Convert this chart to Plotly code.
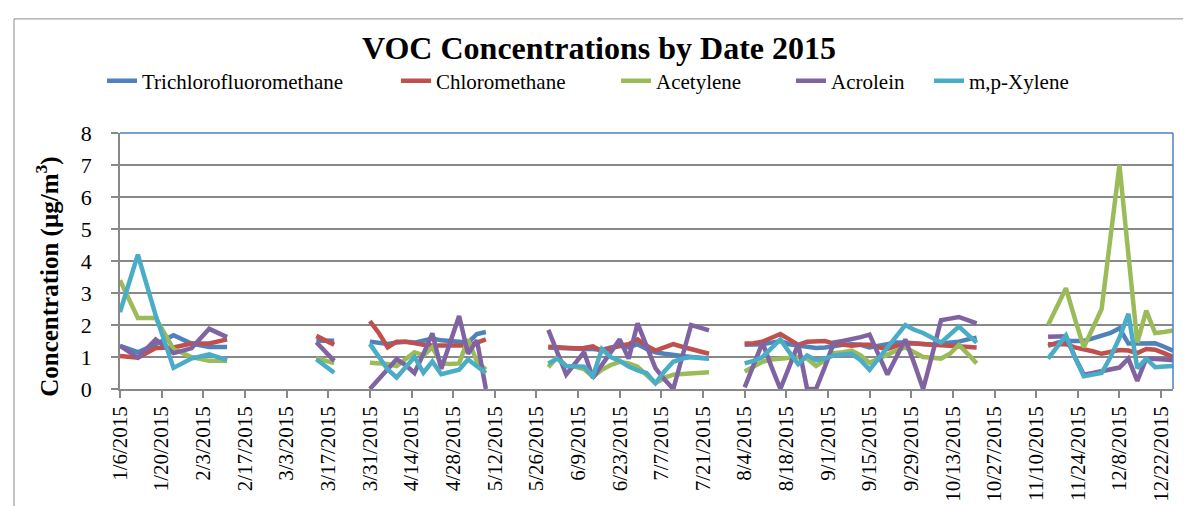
import plotly.graph_objects as go

# Sampling dates (None values separate the measurement clusters)
dates = [
    "2015-01-06", "2015-01-12", "2015-01-18", "2015-01-24", "2015-01-30", "2015-02-05", "2015-02-11",
    "2015-02-17",
    "2015-03-13", "2015-03-19",
    "2015-03-25",
    "2015-03-31", "2015-04-03", "2015-04-06", "2015-04-09", "2015-04-12", "2015-04-15", "2015-04-18",
    "2015-04-21", "2015-04-24", "2015-04-27", "2015-04-30", "2015-05-03", "2015-05-06", "2015-05-09",
    "2015-05-18",
    "2015-05-30", "2015-06-02", "2015-06-05", "2015-06-08", "2015-06-11", "2015-06-14", "2015-06-17",
    "2015-06-20", "2015-06-23", "2015-06-26", "2015-06-29", "2015-07-02", "2015-07-05", "2015-07-08",
    "2015-07-11", "2015-07-14", "2015-07-17", "2015-07-20", "2015-07-23",
    "2015-07-29",
    "2015-08-04", "2015-08-07", "2015-08-10", "2015-08-13", "2015-08-16", "2015-08-19", "2015-08-22",
    "2015-08-25", "2015-08-28", "2015-08-31", "2015-09-03", "2015-09-06", "2015-09-09", "2015-09-12",
    "2015-09-15", "2015-09-18", "2015-09-21", "2015-09-24", "2015-09-27", "2015-09-30", "2015-10-03",
    "2015-10-06", "2015-10-09", "2015-10-12", "2015-10-15", "2015-10-18", "2015-10-21",
    "2015-10-30",
    "2015-11-14", "2015-11-17", "2015-11-20", "2015-11-23", "2015-11-26", "2015-11-29", "2015-12-02",
    "2015-12-05", "2015-12-08", "2015-12-11", "2015-12-14", "2015-12-17", "2015-12-20", "2015-12-23",
    "2015-12-26",
]

trichlorofluoromethane = [
    1.35, 1.15, 1.40, 1.68, 1.42, 1.31, 1.31,
    None,
    1.51, 1.51,
    None,
    1.48, 1.45, 1.41, 1.45, 1.48, 1.45, 1.52, 1.58, 1.52, 1.50, 1.45, 1.45, 1.72, 1.78,
    None,
    1.30, 1.28, 1.27, 1.26, 1.25, 1.25, 1.22, 1.30, 1.35, 1.30, 1.40, 1.25, 1.15, 1.10, 1.05, 1.03, 1.00, 0.98, 0.95,
    None,
    1.38, 1.38, 1.40, 1.45, 1.50, 1.40, 1.35, 1.30, 1.28, 1.30, 1.35, 1.38, 1.40, 1.38, 1.30, 1.35, 1.40, 1.45,
    1.45, 1.42, 1.40, 1.38, 1.42, 1.45, 1.48, 1.55, 1.60,
    None,
    1.35, 1.45, 1.50, 1.50, 1.50, 1.58, 1.65, 1.75, 1.90, 1.42, 1.42, 1.42, 1.43, 1.32, 1.20,
]

chloromethane = [
    1.03, 0.98, 1.28, 1.30, 1.42, 1.42, 1.55,
    None,
    1.66, 1.38,
    None,
    2.12, 1.75, 1.30, 1.48, 1.48, 1.42, 1.38, 1.36, 1.36, 1.35, 1.35, 1.36, 1.45, 1.55,
    None,
    1.32, 1.30, 1.28, 1.27, 1.28, 1.33, 1.18, 1.28, 1.35, 1.40, 1.55, 1.35, 1.20, 1.30, 1.40, 1.32, 1.25, 1.18, 1.10,
    None,
    1.42, 1.43, 1.48, 1.60, 1.72, 1.55, 1.38, 1.48, 1.50, 1.50, 1.42, 1.38, 1.35, 1.38, 1.38, 1.30, 1.25, 1.35,
    1.42, 1.42, 1.40, 1.38, 1.36, 1.35, 1.35, 1.33, 1.30,
    None,
    1.40, 1.40, 1.40, 1.30, 1.25, 1.18, 1.10, 1.15, 1.22, 1.20, 1.12, 1.25, 1.23, 1.12, 1.00,
]

acetylene = [
    3.40, 2.22, 2.22, 1.25, 1.00, 0.88, 0.88,
    None,
    0.96, 0.81,
    None,
    0.82, 0.80, 0.78, 0.72, 0.95, 1.15, 1.05, 1.30, 0.80, 0.78, 0.80, 1.55, 0.85, 0.60,
    None,
    0.68, 1.00, 0.72, 0.70, 0.62, 0.38, 0.60, 0.75, 0.85, 0.80, 0.70, 0.45, 0.18, 0.35, 0.45, 0.47, 0.48, 0.50, 0.52,
    None,
    0.55, 0.70, 0.85, 0.92, 0.95, 0.97, 1.00, 0.95, 0.72, 0.90, 1.12, 1.15, 1.20, 1.05, 0.82, 0.95, 1.08, 1.20,
    1.30, 1.15, 1.00, 0.98, 0.95, 1.10, 1.38, 1.10, 0.80,
    None,
    2.00, 2.60, 3.15, 2.20, 1.30, 1.90, 2.50, 4.75, 7.00, 4.20, 1.45, 2.45, 1.75, 1.78, 1.83,
]

acrolein = [
    1.35, 0.98, 1.55, 1.12, 1.27, 1.88, 1.62,
    None,
    1.46, 0.88,
    None,
    0.00, 0.31, 0.62, 0.93, 0.75, 0.50, 1.10, 1.74, 0.63, 1.45, 2.28, 1.10, 1.52, 0.00,
    None,
    1.85, 1.15, 0.45, 0.80, 1.15, 0.35, 0.75, 1.15, 1.55, 0.95, 2.05, 1.35, 0.65, 0.30, 0.00, 1.00, 2.00, 1.92, 1.83,
    None,
    0.05, 0.75, 1.45, 0.70, 0.00, 0.70, 1.40, 0.00, 0.00, 0.70, 1.45, 1.50, 1.55, 1.62, 1.70, 1.10, 0.45, 1.00,
    1.55, 0.80, 0.00, 1.05, 2.15, 2.20, 2.25, 2.15, 2.05,
    None,
    1.63, 1.64, 1.65, 1.00, 0.45, 0.50, 0.55, 0.62, 0.67, 0.95, 0.25, 0.95, 0.95, 0.92, 0.90,
]

mp_xylene = [
    2.40, 4.20, 2.30, 0.66, 0.95, 1.08, 0.90,
    None,
    0.93, 0.51,
    None,
    1.41, 1.00, 0.61, 0.36, 0.68, 1.00, 0.51, 0.86, 0.46, 0.53, 0.60, 0.92, 0.72, 0.50,
    None,
    0.80, 0.95, 0.72, 0.72, 0.70, 0.40, 1.25, 1.00, 0.88, 0.70, 0.58, 0.50, 0.18, 0.55, 0.85, 0.95, 1.00, 0.97, 0.95,
    None,
    0.80, 0.88, 1.00, 1.30, 1.55, 1.15, 0.78, 1.05, 0.90, 0.95, 1.05, 1.08, 1.10, 0.90, 0.60, 0.95, 1.30, 1.65,
    2.00, 1.85, 1.75, 1.60, 1.45, 1.70, 1.95, 1.70, 1.45,
    None,
    0.95, 1.30, 1.67, 1.00, 0.40, 0.45, 0.50, 1.00, 1.60, 2.35, 0.65, 0.95, 0.68, 0.70, 0.72,
]

series_names = ["Trichlorofluoromethane", "Chloromethane", "Acetylene", "Acrolein", "m,p-Xylene"]
series_values = [trichlorofluoromethane, chloromethane, acetylene, acrolein, mp_xylene]
series_colors = ["#4F81BD", "#C0504D", "#9BBB59", "#8064A2", "#4BACC6"]

# plot-area geometry in pixels (for placing legends / frame)
W, H = 1191, 506
L, R, T, B = 112, 1165, 125, 392
pw, ph = R - L, B - T


def px_x(px):
    return (px - L) / pw


def px_y(py):
    return (B - py) / ph


FONT = "Liberation Serif, Times New Roman, serif"
legend_text_x = [143, 437, 657, 832, 970]

fig = go.Figure()
for i, (name, vals, col) in enumerate(zip(series_names, series_values, series_colors)):
    lg = "legend" if i == 0 else f"legend{i + 1}"
    fig.add_trace(go.Scatter(
        x=dates, y=vals, mode="lines", name=name,
        line=dict(color=col, width=4.5), connectgaps=False, legend=lg,
    ))

legends = {}
for i, tx in enumerate(legend_text_x):
    key = "legend" if i == 0 else f"legend{i + 1}"
    legends[key] = dict(
        x=px_x(tx - 49), xanchor="left", y=px_y(71), yanchor="middle",
        orientation="h", bgcolor="rgba(0,0,0,0)",
        font=dict(family=FONT, size=21, color="#000"),
    )

fig.update_layout(
    width=W, height=H,
    margin=dict(l=L, r=W - R, t=T, b=H - B),
    paper_bgcolor="white", plot_bgcolor="white",
    title=dict(
        text="<b>VOC Concentrations by Date 2015</b>",
        x=px_x(591), xref="paper", xanchor="center",
        y=1 - 40 / H, yref="container", yanchor="middle",
        font=dict(family=FONT, size=32, color="#000"),
    ),
    showlegend=True,
    **legends,
    xaxis=dict(
        type="date",
        range=["2015-01-06", "2015-12-26"],
        tick0="2015-01-06", dtick=14 * 86400000,
        tickformat="%-m/%-d/%Y", tickangle=-90,
        ticks="outside", ticklen=7, tickwidth=1.5, tickcolor="#888888",
        showgrid=False, showline=True, linecolor="#888888", linewidth=1.5,
        zeroline=False,
        tickfont=dict(family=FONT, size=21, color="#000"),
    ),
    yaxis=dict(
        range=[0, 8], dtick=1, tick0=0,
        ticks="outside", ticklen=7, tickwidth=1.5, tickcolor="#888888",
        showgrid=True, gridcolor="#888888", gridwidth=1.5,
        showline=True, linecolor="#888888", linewidth=1.5,
        zeroline=False, ticklabelstandoff=15,
        tickfont=dict(family=FONT, size=22, color="#000"),
    ),
    annotations=[
        dict(text="<b>Concentration (µg/m<sup>3</sup>)</b>", textangle=-90,
             xref="paper", yref="paper", x=px_x(40), y=px_y(275),
             xanchor="center", yanchor="middle", showarrow=False,
             font=dict(family=FONT, size=25, color="#000")),
    ],
    shapes=[
        dict(type="line", xref="paper", yref="paper", x0=0, x1=1, y0=1, y1=1,
             line=dict(color="#4F81BD", width=1.5), layer="above"),
        dict(type="line", xref="paper", yref="paper", x0=1, x1=1, y0=0, y1=1,
             line=dict(color="#4F81BD", width=1.5), layer="above"),
        dict(type="rect", xref="paper", yref="paper",
             x0=px_x(6), x1=px_x(1185), y0=px_y(520), y1=px_y(6),
             line=dict(color="#8C8C8C", width=1), layer="below"),
    ],
)

fig.write_html("out.html")
